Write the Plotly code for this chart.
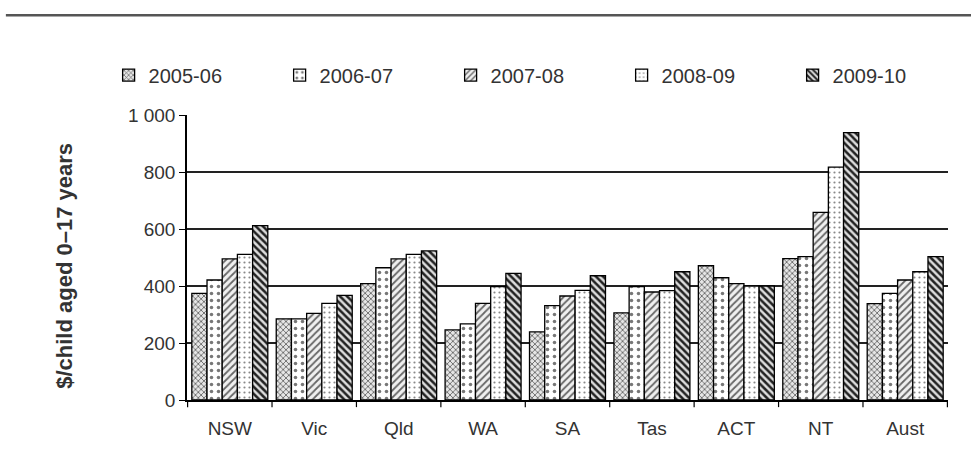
import plotly.graph_objects as go

categories = ["NSW", "Vic", "Qld", "WA", "SA", "Tas", "ACT", "NT", "Aust"]
years = ["2005-06", "2006-07", "2007-08", "2008-09", "2009-10"]
v2005_06 = [374, 285, 408, 246, 239, 306, 471, 496, 338]
v2006_07 = [421, 285, 464, 267, 331, 398, 429, 503, 374]
v2007_08 = [495, 304, 495, 339, 365, 379, 408, 658, 421]
v2008_09 = [511, 339, 511, 398, 385, 384, 400, 817, 450]
v2009_10 = [612, 367, 523, 444, 436, 450, 400, 938, 503]
series = [v2005_06, v2006_07, v2007_08, v2008_09, v2009_10]
y_ticks = [0, 200, 400, 600, 800, 1000]
y_tick_labels = ["0", "200", "400", "600", "800", "1 000"]

styles = [
    dict(shape="x", bgcolor="#e6e6e6", fgcolor="#555555", size=4, solidity=0.35),
    dict(shape=".", bgcolor="white", fgcolor="#777777", size=7, solidity=0.2),
    dict(shape="/", bgcolor="#f0f0f0", fgcolor="#666666", size=5, solidity=0.35),
    dict(shape=".", bgcolor="white", fgcolor="#888888", size=5, solidity=0.15),
    dict(shape="\\", bgcolor="#dddddd", fgcolor="#222222", size=5, solidity=0.5),
]

fig = go.Figure()
for name, vals, st in zip(years, series, styles):
    fig.add_trace(go.Bar(
        x=categories, y=vals, name=name,
        marker=dict(color=st["bgcolor"], line=dict(color="black", width=1.3),
                    pattern=dict(shape=st["shape"], bgcolor=st["bgcolor"],
                                 fgcolor=st["fgcolor"], size=st["size"],
                                 solidity=st["solidity"], fillmode="replace")),
    ))

font_family = "Liberation Sans, Arial, sans-serif"
fig.update_layout(
    width=971, height=468,
    margin=dict(l=187, r=23, t=115, b=68),
    paper_bgcolor="white", plot_bgcolor="white",
    barmode="group", bargap=0.1, bargroupgap=0.0,
    font=dict(family=font_family, size=19, color="#333333"),
    showlegend=True,
    legend=dict(orientation="h", x=-0.103, xanchor="left", y=1.14, yanchor="middle",
                entrywidth=126, entrywidthmode="pixels", traceorder="normal",
                font=dict(size=20, color="#333333"), itemwidth=30),
    xaxis=dict(showline=True, linecolor="black", linewidth=1.5,
               ticks="", showgrid=False, tickfont=dict(size=19),
               ticklabelstandoff=10),
    yaxis=dict(range=[0, 1000], tickvals=y_ticks, ticktext=y_tick_labels,
               showline=True, linecolor="black", linewidth=1.5,
               ticks="outside", ticklen=6, tickcolor="black",
               showgrid=True, gridcolor="#222222", gridwidth=1.5,
               tickfont=dict(size=19)),
    shapes=[dict(type="line", xref="paper", yref="paper", x0=-0.238, x1=1.04,
                 y0=1.35, y1=1.35, line=dict(color="#555555", width=2.5))],
    annotations=[dict(text="<b>$/child aged 0–17 years</b>", xref="paper", yref="paper",
                      x=-0.162, y=0.47, xanchor="center", yanchor="middle",
                      textangle=-90, showarrow=False,
                      font=dict(size=22, color="#333333"))],
)
# category separator ticks on the x axis
for i in range(len(categories) + 1):
    fig.add_shape(type="line", xref="x", yref="paper", x0=i - 0.5, x1=i - 0.5,
                  y0=0, y1=-0.025, line=dict(color="black", width=1.2))

fig.write_html("out.html")
